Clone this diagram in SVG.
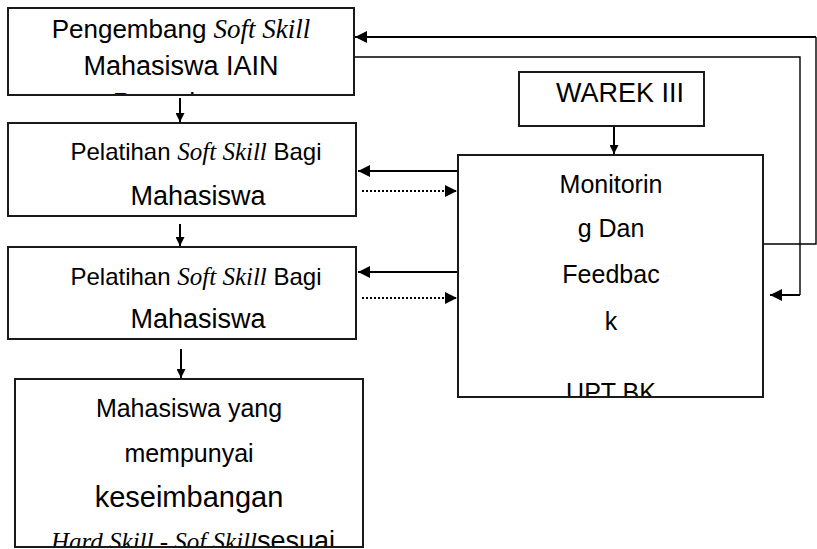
<svg xmlns="http://www.w3.org/2000/svg" width="817" height="549" viewBox="0 0 817 549">
  <style>
    .box { fill: #ffffff; stroke: #1a1a1a; stroke-width: 2; }
    .t { font-family: "Liberation Sans", Arial, sans-serif; fill: #000; text-anchor: middle; }
    .it { font-family: "Liberation Serif", "Times New Roman", serif; font-style: italic; }
    .line { fill: none; stroke: #000; stroke-width: 2; }
    .thin { fill: none; stroke: #000; stroke-width: 1.4; }
    .dot { fill: none; stroke: #000; stroke-width: 2; stroke-dasharray: 2 2; }
  </style>
  <defs>
    <marker id="head" viewBox="0 0 10 10" refX="10" refY="5" markerWidth="7" markerHeight="6" markerUnits="strokeWidth" orient="auto">
      <path d="M0,0 L10,5 L0,10 Z" fill="#000"/>
    </marker>
    <marker id="headSmall" viewBox="0 0 10 10" refX="10" refY="5" markerWidth="5" markerHeight="4.5" markerUnits="strokeWidth" orient="auto">
      <path d="M0,0 L10,5 L0,10 Z" fill="#000"/>
    </marker>
    <clipPath id="clip-dev"><rect x="9" y="9" width="344" height="85"/></clipPath>
    <clipPath id="clip-mon"><rect x="459" y="156" width="303" height="240"/></clipPath>
    <clipPath id="clip-out"><rect x="16" y="380" width="346" height="166"/></clipPath>
  </defs>

  <!-- connectors -->
  <g id="connectors">
    <!-- vertical flow -->
    <line class="line" x1="180" y1="98" x2="180" y2="122" marker-end="url(#headSmall)"/>
    <line class="line" x1="180" y1="224" x2="180" y2="246" marker-end="url(#headSmall)"/>
    <line class="line" x1="181" y1="349" x2="181" y2="378" marker-end="url(#headSmall)"/>
    <line class="line" x1="614" y1="127" x2="614" y2="154" marker-end="url(#headSmall)"/>
    <!-- monitoring to training boxes -->
    <line class="line" x1="458" y1="171" x2="358" y2="171" marker-end="url(#head)"/>
    <line class="dot" x1="362" y1="191" x2="457" y2="191" marker-end="url(#head)"/>
    <line class="line" x1="458" y1="272" x2="358" y2="272" marker-end="url(#head)"/>
    <line class="dot" x1="362" y1="298" x2="457" y2="298" marker-end="url(#head)"/>
    <!-- feedback loops -->
    <polyline class="thin" points="763,244 816,244 816,37"/>
    <line class="line" x1="816" y1="37" x2="355" y2="37" marker-end="url(#head)"/>
    <polyline class="thin" points="354,57 800,57 800,295"/>
    <line class="line" x1="800" y1="295" x2="770" y2="295" marker-end="url(#head)"/>
  </g>

  <g id="pengembang">
    <rect class="box" x="8" y="8" width="346" height="87"/>
    <g clip-path="url(#clip-dev)">
      <text class="t" x="181" y="38" font-size="26">Pengembang <tspan class="it" font-size="27">Soft Skill</tspan></text>
      <text class="t" x="181" y="75" font-size="27">Mahasiswa IAIN</text>
      <text class="t" x="181" y="112" font-size="27">Purwokerto</text>
    </g>
  </g>

  <g id="warek">
    <rect class="box" x="519" y="72" width="185" height="54"/>
    <text class="t" x="620" y="102" font-size="27">WAREK III</text>
  </g>

  <g id="pelatihan-1">
    <rect class="box" x="8" y="123" width="348" height="93"/>
    <text class="t" x="196" y="160" font-size="24">Pelatihan <tspan class="it" font-size="25">Soft Skill</tspan> Bagi</text>
    <text class="t" x="198" y="205" font-size="27">Mahasiswa</text>
  </g>

  <g id="pelatihan-2">
    <rect class="box" x="8" y="247" width="348" height="92"/>
    <text class="t" x="196" y="285" font-size="24">Pelatihan <tspan class="it" font-size="25">Soft Skill</tspan> Bagi</text>
    <text class="t" x="198" y="328" font-size="27">Mahasiswa</text>
  </g>

  <g id="monitoring">
    <rect class="box" x="458" y="155" width="305" height="242"/>
    <g clip-path="url(#clip-mon)">
      <text class="t" x="611" y="193" font-size="25">Monitorin</text>
      <text class="t" x="611" y="237" font-size="25">g Dan</text>
      <text class="t" x="611" y="283" font-size="25">Feedbac</text>
      <text class="t" x="611" y="330" font-size="25">k</text>
      <text class="t" x="611" y="401" font-size="25">UPT BK</text>
    </g>
  </g>

  <g id="hasil">
    <rect class="box" x="15" y="379" width="348" height="168"/>
    <g clip-path="url(#clip-out)">
      <text class="t" x="189" y="417" font-size="25">Mahasiswa yang</text>
      <text class="t" x="189" y="462" font-size="25">mempunyai</text>
      <text class="t" x="189" y="507" font-size="29">keseimbangan</text>
      <text class="t" x="193" y="550" font-size="27"><tspan class="it" font-size="25">Hard Skill - Sof Skill</tspan>sesuai</text>
    </g>
  </g>
</svg>
